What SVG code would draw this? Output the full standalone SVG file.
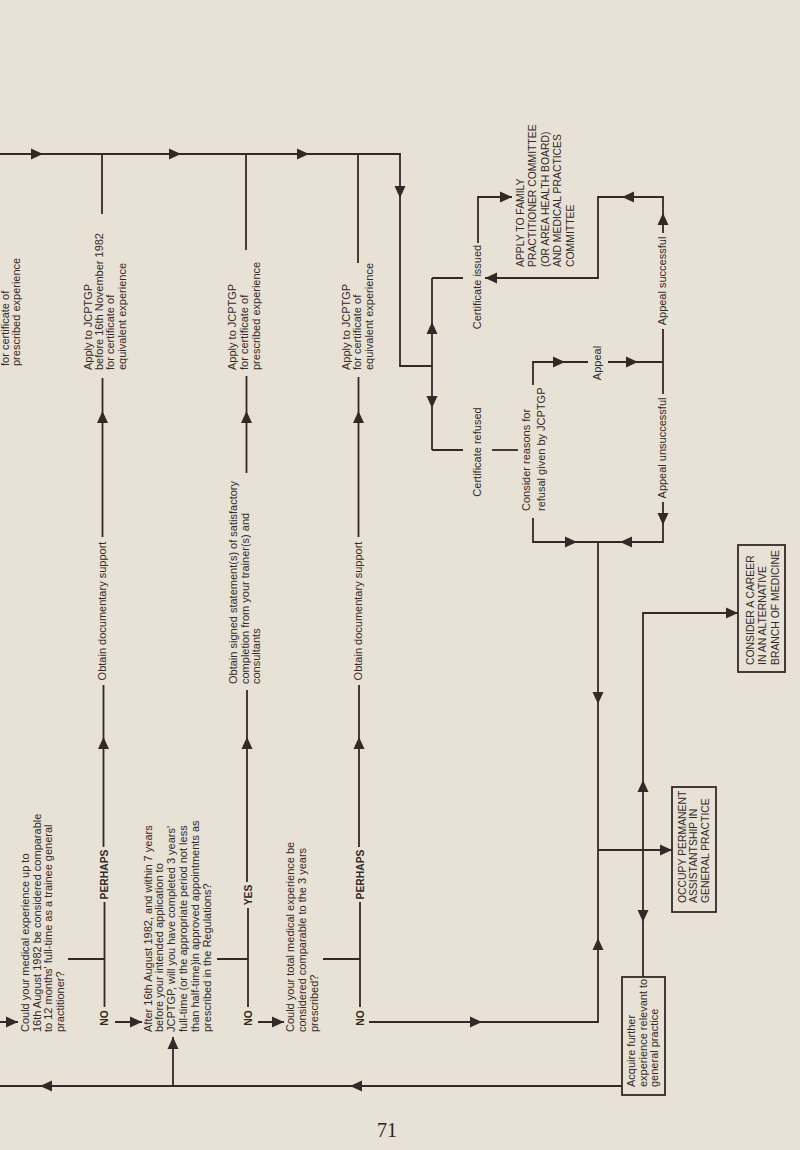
<svg xmlns="http://www.w3.org/2000/svg" xmlns:xlink="http://www.w3.org/1999/xlink" width="800" height="1150" viewBox="0 0 800 1150">
<style>
.t{font-family:"Liberation Sans",Arial,Helvetica,sans-serif;font-size:11px;fill:#332a27}
.c{font-size:10.4px}
.b{font-weight:bold;font-size:10.3px}
.ln{fill:none;stroke:#332a27;stroke-width:1.8}
.bx{fill:none;stroke:#332a27;stroke-width:1.8}
.ah{fill:#332a27}
.pg{font-family:"Liberation Serif","Times New Roman",serif;font-size:20px;fill:#2a2220}
</style>
<defs>
<path id="ah" class="ah" d="M0,0 L-12,-5.5 L-12,5.5 Z"/>
</defs>
<rect x="0" y="0" width="800" height="1150" fill="#e7e1d6"/>

<g id="connectors">
<path class="ln" d="M0,154 H400 V366 H432"/>
<path class="ln" d="M102,154 V214 M246,154 V250 M358,154 V263"/>
<path class="ln" d="M102.5,378 V537 M103.5,685 V847 M104.5,902 V1007 M68,959 H104.5 M115,1022 H142"/>
<path class="ln" d="M246.5,376 V473 M247,690 V882 M248,908 V1007 M217,959 H248 M258,1022 H284"/>
<path class="ln" d="M358.5,377 V537 M359,685 V847 M360,902 V1007 M323,959 H360 M369,1022 H598 V542"/>
<path class="ln" d="M598,850 H672"/>
<path class="ln" d="M643,977 V613 H738"/>
<path class="ln" d="M622,1086 H0 M173,1086 V1037 M0,1022 H18"/>
<path class="ln" d="M432,278 V450 M432,278 H463 M432,450 H463"/>
<path class="ln" d="M478,243 V197 H512"/>
<path class="ln" d="M485,278 H598 V197 H663 V233"/>
<path class="ln" d="M663,329 V394"/>
<path class="ln" d="M533,385 V362 H588 M608,362 H663"/>
<path class="ln" d="M663,502 V542 H598"/>
<path class="ln" d="M492,450 H518"/>
<path class="ln" d="M533,518 V542 H598"/>
<use xlink:href="#ah" href="#ah" transform="translate(43,154)"/>
<use xlink:href="#ah" href="#ah" transform="translate(181,154)"/>
<use xlink:href="#ah" href="#ah" transform="translate(309,154)"/>
<use xlink:href="#ah" href="#ah" transform="translate(142,1022)"/>
<use xlink:href="#ah" href="#ah" transform="translate(284,1022)"/>
<use xlink:href="#ah" href="#ah" transform="translate(482,1022)"/>
<use xlink:href="#ah" href="#ah" transform="translate(672,850)"/>
<use xlink:href="#ah" href="#ah" transform="translate(738,613)"/>
<use xlink:href="#ah" href="#ah" transform="translate(512,197)"/>
<use xlink:href="#ah" href="#ah" transform="translate(565,362)"/>
<use xlink:href="#ah" href="#ah" transform="translate(638,362)"/>
<use xlink:href="#ah" href="#ah" transform="translate(577,542)"/>
<use xlink:href="#ah" href="#ah" transform="translate(18,1022)"/>
<use xlink:href="#ah" href="#ah" transform="translate(400,198) rotate(90)"/>
<use xlink:href="#ah" href="#ah" transform="translate(432,408) rotate(90)"/>
<use xlink:href="#ah" href="#ah" transform="translate(663,525) rotate(90)"/>
<use xlink:href="#ah" href="#ah" transform="translate(598,704) rotate(90)"/>
<use xlink:href="#ah" href="#ah" transform="translate(643,922) rotate(90)"/>
<use xlink:href="#ah" href="#ah" transform="translate(485,278) rotate(180)"/>
<use xlink:href="#ah" href="#ah" transform="translate(622,197) rotate(180)"/>
<use xlink:href="#ah" href="#ah" transform="translate(620,542) rotate(180)"/>
<use xlink:href="#ah" href="#ah" transform="translate(40,1086) rotate(180)"/>
<use xlink:href="#ah" href="#ah" transform="translate(350,1086) rotate(180)"/>
<use xlink:href="#ah" href="#ah" transform="translate(102.5,411) rotate(-90)"/>
<use xlink:href="#ah" href="#ah" transform="translate(246.5,411) rotate(-90)"/>
<use xlink:href="#ah" href="#ah" transform="translate(358.5,411) rotate(-90)"/>
<use xlink:href="#ah" href="#ah" transform="translate(103.5,737) rotate(-90)"/>
<use xlink:href="#ah" href="#ah" transform="translate(247,737) rotate(-90)"/>
<use xlink:href="#ah" href="#ah" transform="translate(359,737) rotate(-90)"/>
<use xlink:href="#ah" href="#ah" transform="translate(432,322) rotate(-90)"/>
<use xlink:href="#ah" href="#ah" transform="translate(663,213) rotate(-90)"/>
<use xlink:href="#ah" href="#ah" transform="translate(598,938) rotate(-90)"/>
<use xlink:href="#ah" href="#ah" transform="translate(643,780) rotate(-90)"/>
<use xlink:href="#ah" href="#ah" transform="translate(173,1037) rotate(-90)"/>
</g>

<g id="edge-labels">
<text class="t" text-anchor="middle" transform="translate(105.5,611) rotate(-90)">Obtain documentary support</text>
<text class="t" text-anchor="middle" transform="translate(361.5,611) rotate(-90)">Obtain documentary support</text>
<text class="t b" text-anchor="middle" transform="translate(108.2,874.5) rotate(-90)">PERHAPS</text>
<text class="t b" text-anchor="middle" transform="translate(363.6,874.5) rotate(-90)">PERHAPS</text>
<text class="t b" text-anchor="middle" transform="translate(251.6,895) rotate(-90)">YES</text>
<text class="t b" text-anchor="middle" transform="translate(108.2,1018) rotate(-90)">NO</text>
<text class="t b" text-anchor="middle" transform="translate(251.6,1018) rotate(-90)">NO</text>
<text class="t b" text-anchor="middle" transform="translate(363.6,1018) rotate(-90)">NO</text>
<text class="t" text-anchor="middle" transform="translate(481,287) rotate(-90)">Certificate issued</text>
<text class="t" text-anchor="middle" transform="translate(481,452) rotate(-90)">Certificate refused</text>
<text class="t" text-anchor="middle" transform="translate(666,281) rotate(-90)">Appeal successful</text>
<text class="t" text-anchor="middle" transform="translate(666,448) rotate(-90)">Appeal unsuccessful</text>
<text class="t" text-anchor="middle" transform="translate(601,363) rotate(-90)">Appeal</text>
</g>

<g id="apply-prescribed-left">
<text class="t" transform="translate(8.8,366) rotate(-90)"><tspan x="0" dy="0">for certificate of</tspan><tspan x="0" dy="11">prescribed experience</tspan></text>
</g>
<g id="apply-equivalent-1982">
<text class="t" transform="translate(91.5,370) rotate(-90)"><tspan x="0" dy="0">Apply to JCPTGP</tspan><tspan x="0" dy="11.4">before 16th November 1982</tspan><tspan x="0" dy="11.4">for certificate of</tspan><tspan x="0" dy="11.4">equivalent experience</tspan></text>
</g>
<g id="apply-prescribed">
<text class="t" transform="translate(236,370) rotate(-90)"><tspan x="0" dy="0">Apply to JCPTGP</tspan><tspan x="0" dy="12">for certificate of</tspan><tspan x="0" dy="12">prescribed experience</tspan></text>
</g>
<g id="apply-equivalent">
<text class="t" transform="translate(349.5,370) rotate(-90)"><tspan x="0" dy="0">Apply to JCPTGP</tspan><tspan x="0" dy="11.5">for certificate of</tspan><tspan x="0" dy="11.5">equivalent experience</tspan></text>
</g>
<g id="obtain-signed">
<text class="t" transform="translate(237,684) rotate(-90)"><tspan x="0" dy="0">Obtain signed statement(s) of satisfactory</tspan><tspan x="0" dy="11.5">completion from your trainer(s) and</tspan><tspan x="0" dy="11.5">consultants</tspan></text>
</g>
<g id="decision-1">
<text class="t" transform="translate(29,1032) rotate(-90)"><tspan x="0" dy="0">Could your medical experience up to</tspan><tspan x="0" dy="11.7">16th August 1982 be considered comparable</tspan><tspan x="0" dy="11.7">to 12 months' full-time as a trainee general</tspan><tspan x="0" dy="11.7">practitioner?</tspan></text>
</g>
<g id="decision-2">
<text class="t" transform="translate(151.5,1032) rotate(-90)"><tspan x="0" dy="0">After 16th August 1982, and within 7 years</tspan><tspan x="0" dy="11.8">before your intended application to</tspan><tspan x="0" dy="11.8">JCPTGP, will you have completed 3 years'</tspan><tspan x="0" dy="11.8">full-time (or the appropriate period not less</tspan><tspan x="0" dy="11.8">than half-time)in approved appointments as</tspan><tspan x="0" dy="11.8">prescribed in the Regulations?</tspan></text>
</g>
<g id="decision-3">
<text class="t" transform="translate(293.5,1032) rotate(-90)"><tspan x="0" dy="0">Could your total medical experience be</tspan><tspan x="0" dy="12">considered comparable to the 3 years</tspan><tspan x="0" dy="12">prescribed?</tspan></text>
</g>
<g id="consider-reasons">
<text class="t" transform="translate(530,511) rotate(-90)"><tspan x="0" dy="0">Consider reasons for</tspan><tspan x="0" dy="15">refusal given by JCPTGP</tspan></text>
</g>
<g id="apply-fpc">
<text class="t c" transform="translate(523.8,267) rotate(-90)"><tspan x="0" dy="0">APPLY TO FAMILY</tspan><tspan x="0" dy="12.5">PRACTITIONER COMMITTEE</tspan><tspan x="0" dy="12.5">(OR AREA HEALTH BOARD)</tspan><tspan x="0" dy="12.5">AND MEDICAL PRACTICES</tspan><tspan x="0" dy="12.5">COMMITTEE</tspan></text>
</g>
<g id="consider-career">
<rect class="bx" x="738" y="545" width="47" height="127"/>
<text class="t c" transform="translate(753.8,665) rotate(-90)"><tspan x="0" dy="0">CONSIDER A CAREER</tspan><tspan x="0" dy="12.5">IN AN ALTERNATIVE</tspan><tspan x="0" dy="12.5">BRANCH OF MEDICINE</tspan></text>
</g>
<g id="occupy-assistantship">
<rect class="bx" x="672" y="787" width="44" height="125"/>
<text class="t c" transform="translate(685.8,903) rotate(-90)"><tspan x="0" dy="0">OCCUPY PERMANENT</tspan><tspan x="0" dy="11.6">ASSISTANTSHIP IN</tspan><tspan x="0" dy="11.6">GENERAL PRACTICE</tspan></text>
</g>
<g id="acquire-experience">
<rect class="bx" x="622" y="977" width="43" height="118"/>
<text class="t" transform="translate(635,1087) rotate(-90)"><tspan x="0" dy="0">Acquire further</tspan><tspan x="0" dy="11.5">experience relevant to</tspan><tspan x="0" dy="11.5">general practice</tspan></text>
</g>
<text class="pg" x="387" y="1137" text-anchor="middle">71</text>
</svg>
